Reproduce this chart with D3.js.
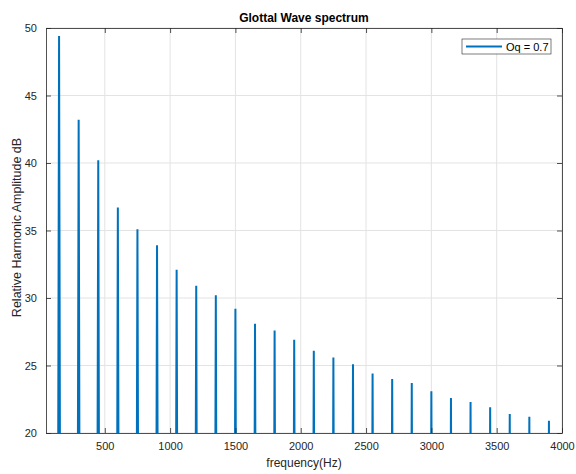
<!DOCTYPE html>
<html>
<head>
<meta charset="utf-8">
<script src="https://cdn.jsdelivr.net/npm/d3@7"></script>
<style>
  html, body { margin: 0; padding: 0; background: #fff; }
  svg { display: block; font-family: "Liberation Sans", Arial, Helvetica, sans-serif; }
</style>
</head>
<body>
<svg id="chart" width="576" height="474"></svg>
<script>
// Harmonic frequencies (Hz) of the glottal source, f0 = 150 Hz
const harmonicFreqs = [150, 300, 450, 600, 750, 900, 1050, 1200, 1350, 1500,
  1650, 1800, 1950, 2100, 2250, 2400, 2550, 2700, 2850, 3000,
  3150, 3300, 3450, 3600, 3750, 3900];
// Relative harmonic amplitudes (dB) for open quotient 0.7
const harmonicAmps = [49.4, 43.2, 40.2, 36.7, 35.1, 33.9, 32.1, 30.9, 30.2, 29.2,
  28.1, 27.6, 26.9, 26.1, 25.6, 25.1, 24.4, 24.0, 23.7, 23.1,
  22.6, 22.3, 21.9, 21.4, 21.2, 20.9];
const xTicks = [500, 1000, 1500, 2000, 2500, 3000, 3500, 4000];
const yTicks = [20, 25, 30, 35, 40, 45, 50];
const seriesLabel = "Oq = 0.7";

const W = 576, H = 474;
const m = { left: 46, right: 14, top: 28, bottom: 41 };
const iw = W - m.left - m.right, ih = H - m.top - m.bottom;
const lineColor = "#0072BD", axisColor = "#262626", gridColor = "#e3e3e3";

const svg = d3.select("#chart");
const x = d3.scaleLinear().domain([50, 4000]).range([0, iw]);
const y = d3.scaleLinear().domain([20, 50]).range([ih, 0]);

const g = svg.append("g").attr("transform", `translate(${m.left},${m.top})`);

svg.append("defs").append("clipPath").attr("id", "plotClip")
  .append("rect").attr("width", iw).attr("height", ih);

// grid
g.append("g").selectAll("line.gx").data(xTicks).join("line")
  .attr("x1", d => x(d)).attr("x2", d => x(d)).attr("y1", 0).attr("y2", ih)
  .attr("stroke", gridColor).attr("stroke-width", 1);
g.append("g").selectAll("line.gy").data(yTicks).join("line")
  .attr("x1", 0).attr("x2", iw).attr("y1", d => y(d)).attr("y2", d => y(d))
  .attr("stroke", gridColor).attr("stroke-width", 1);

// spectral lines: each harmonic is a narrow lobe rising from below the floor
const lobeHalf = 15, lobeFloor = -20;
const harmonics = harmonicFreqs.map((f, i) => ({ f, a: harmonicAmps[i] }));
const lineGen = d3.line().x(d => x(d[0])).y(d => y(d[1]));
g.append("g").attr("clip-path", "url(#plotClip)")
  .selectAll("path").data(harmonics).join("path")
  .attr("d", d => lineGen([[d.f - lobeHalf, lobeFloor], [d.f, d.a], [d.f + lobeHalf, lobeFloor]]))
  .attr("fill", "none").attr("stroke", lineColor).attr("stroke-width", 2)
  .attr("stroke-linejoin", "bevel");

// axes (ticks inward, box on)
const tickLen = 5;
const fmt = d3.format("d");
const xAxisB = d3.axisBottom(x).tickValues(xTicks).tickFormat(fmt).tickSizeInner(-tickLen).tickSizeOuter(0).tickPadding(9);
const xAxisT = d3.axisTop(x).tickValues(xTicks).tickSizeInner(-tickLen).tickSizeOuter(0).tickFormat("");
const yAxisL = d3.axisLeft(y).tickValues(yTicks).tickFormat(fmt).tickSizeInner(-tickLen).tickSizeOuter(0).tickPadding(9);
const yAxisR = d3.axisRight(y).tickValues(yTicks).tickSizeInner(-tickLen).tickSizeOuter(0).tickFormat("");

function style(sel) {
  sel.selectAll("path.domain").attr("stroke", axisColor).attr("stroke-width", 0.8);
  sel.selectAll(".tick line").attr("stroke", axisColor).attr("stroke-width", 0.8);
  sel.selectAll(".tick text").attr("fill", axisColor).style("font-size", "11px")
    .style("font-family", "'Liberation Sans', Arial, sans-serif");
}
g.append("g").attr("transform", `translate(0,${ih})`).call(xAxisB).call(style);
g.append("g").call(xAxisT).call(style);
g.append("g").call(yAxisL).call(style);
g.append("g").attr("transform", `translate(${iw},0)`).call(yAxisR).call(style);

// title and axis labels
svg.append("text").attr("x", m.left + iw / 2).attr("y", 22).attr("text-anchor", "middle")
  .attr("fill", "#000").style("font-size", "12px").style("font-weight", "bold")
  .text("Glottal Wave spectrum");
svg.append("text").attr("x", m.left + iw / 2).attr("y", 467).attr("text-anchor", "middle")
  .attr("fill", axisColor).style("font-size", "12px").text("frequency(Hz)");
svg.append("text").attr("transform", `translate(21,${m.top + ih / 2 - 3}) rotate(-90)`)
  .attr("text-anchor", "middle").attr("fill", axisColor).style("font-size", "12.5px")
  .text("Relative Harmonic Amplitude dB");

// legend
const lg = svg.append("g").attr("transform", "translate(462,39)");
lg.append("rect").attr("width", 89).attr("height", 15).attr("fill", "#fff")
  .attr("stroke", axisColor).attr("stroke-width", 0.6);
lg.append("line").attr("x1", 4).attr("x2", 40).attr("y1", 7.5).attr("y2", 7.5)
  .attr("stroke", lineColor).attr("stroke-width", 2);
lg.append("text").attr("x", 44).attr("y", 11.5).attr("fill", "#000")
  .style("font-size", "11px").text(seriesLabel);
</script>
</body>
</html>
